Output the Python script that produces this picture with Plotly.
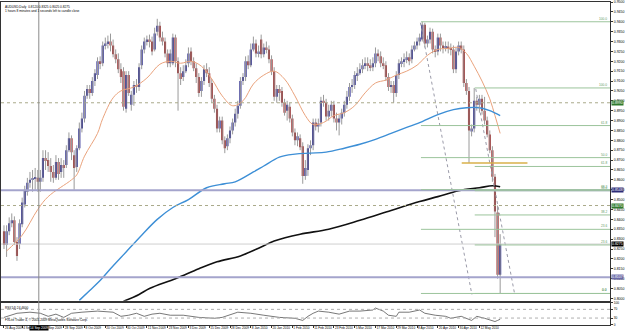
import plotly.graph_objects as go

# ---------------- data (AUDUSD daily) ----------------
opens = [0.8340,0.8270,0.8340,0.8380,0.8395,0.8285,0.8275,0.8375,0.8475,0.8540,
         0.8585,0.8600,0.8605,0.8610,0.8590,0.8610,0.8710,0.8700,0.8670,0.8640,
         0.8610,0.8690,0.8640,0.8675,0.8675,0.8750,0.8810,0.8725,0.8665,0.8760,
         0.8860,0.8910,0.9025,0.9060,0.9040,0.9100,0.9130,0.9200,0.9190,0.9280,
         0.9290,0.9300,0.9280,0.9235,0.9210,0.9160,0.9150,0.8960,0.9130,0.8980,
         0.9030,0.9080,0.9070,0.9180,0.9260,0.9300,0.9310,0.9300,0.9260,0.9350,
         0.9380,0.9320,0.9300,0.9240,0.9190,0.9190,0.9320,0.9200,0.9140,0.9120,
         0.9150,0.9190,0.9250,0.9200,0.9165,0.9120,0.9050,0.9100,0.9160,0.9140,
         0.9090,0.9010,0.8960,0.8860,0.8900,0.8800,0.8770,0.8810,0.8850,0.8890,
         0.8935,0.8975,0.9100,0.9120,0.9200,0.9180,0.9260,0.9290,0.9240,0.9310,
         0.9235,0.9270,0.9260,0.9210,0.9150,0.9020,0.9060,0.9050,0.8990,0.8950,
         0.8970,0.8910,0.8840,0.8800,0.8810,0.8770,0.8620,0.8650,0.8760,0.8775,
         0.8890,0.8870,0.8890,0.9000,0.8990,0.8920,0.8950,0.8980,0.8910,0.8890,
         0.8910,0.8940,0.8980,0.9020,0.9070,0.9080,0.9130,0.9140,0.9160,0.9180,
         0.9190,0.9180,0.9170,0.9190,0.9240,0.9225,0.9190,0.9180,0.9120,0.9070,
         0.9080,0.9040,0.9130,0.9190,0.9200,0.9210,0.9220,0.9210,0.9260,0.9280,
         0.9300,0.9310,0.9385,0.9290,0.9310,0.9350,0.9260,0.9250,0.9320,0.9280,
         0.9270,0.9275,0.9265,0.9260,0.9160,0.9250,0.9280,0.9260,0.9090,0.9050,
         0.8845,0.8860,0.9000,0.8980,0.9010,0.8950,0.8900,0.8830,0.8750,0.8615,
         0.8435,0.8120]
highs = [0.8370,0.8370,0.8410,0.8430,0.8415,0.8310,0.8400,0.8510,0.8570,0.8610,
         0.8640,0.8650,0.8660,0.8650,0.8650,0.8750,0.8750,0.8740,0.8710,0.8675,
         0.8725,0.8710,0.8710,0.8700,0.8775,0.8840,0.8825,0.8750,0.8775,0.8890,
         0.8940,0.9050,0.9080,0.9080,0.9120,0.9160,0.9220,0.9225,0.9300,0.9320,
         0.9330,0.9340,0.9310,0.9260,0.9240,0.9190,0.9170,0.9150,0.9150,0.9050,
         0.9100,0.9110,0.9190,0.9280,0.9320,0.9330,0.9335,0.9325,0.9370,0.9415,
         0.9400,0.9350,0.9320,0.9260,0.9260,0.9340,0.9335,0.9220,0.9170,0.9180,
         0.9210,0.9270,0.9270,0.9220,0.9190,0.9140,0.9120,0.9180,0.9190,0.9170,
         0.9110,0.9030,0.8980,0.8920,0.8920,0.8820,0.8830,0.8870,0.8910,0.8960,
         0.9000,0.9120,0.9140,0.9225,0.9230,0.9290,0.9325,0.9310,0.9280,0.9335,
         0.9290,0.9300,0.9280,0.9230,0.9170,0.9080,0.9080,0.9070,0.9010,0.9000,
         0.8990,0.8930,0.8860,0.8840,0.8830,0.8790,0.8700,0.8780,0.8800,0.8910,
         0.8910,0.8910,0.9020,0.9030,0.9010,0.8980,0.9000,0.9000,0.8940,0.8930,
         0.8960,0.9000,0.9050,0.9090,0.9110,0.9150,0.9170,0.9190,0.9210,0.9220,
         0.9220,0.9210,0.9220,0.9270,0.9260,0.9250,0.9220,0.9200,0.9140,0.9100,
         0.9100,0.9150,0.9210,0.9220,0.9240,0.9250,0.9240,0.9280,0.9300,0.9320,
         0.9340,0.9400,0.9395,0.9330,0.9370,0.9365,0.9280,0.9340,0.9340,0.9300,
         0.9300,0.9300,0.9290,0.9280,0.9270,0.9300,0.9300,0.9280,0.9110,0.9070,
         0.8880,0.9065,0.9020,0.9030,0.9030,0.9020,0.8920,0.8850,0.8770,0.8630,
         0.8470,0.8325]
lows = [0.8250,0.8210,0.8320,0.8360,0.8270,0.8190,0.8250,0.8360,0.8460,0.8520,
        0.8560,0.8540,0.8550,0.8540,0.8540,0.8590,0.8650,0.8640,0.8590,0.8585,
        0.8600,0.8600,0.8610,0.8610,0.8660,0.8740,0.8700,0.8550,0.8640,0.8750,
        0.8840,0.8890,0.9010,0.9010,0.9025,0.9075,0.9110,0.9160,0.9175,0.9260,
        0.9265,0.9250,0.9220,0.9190,0.9140,0.9090,0.8950,0.8940,0.9025,0.8950,
        0.8975,0.9040,0.9050,0.9160,0.9240,0.9280,0.9270,0.9230,0.9250,0.9330,
        0.9300,0.9280,0.9220,0.9170,0.9170,0.9180,0.9170,0.8950,0.9080,0.9100,
        0.9140,0.9170,0.9180,0.9150,0.9090,0.9020,0.9020,0.9080,0.9120,0.9070,
        0.8990,0.8940,0.8840,0.8840,0.8780,0.8735,0.8750,0.8785,0.8830,0.8870,
        0.8910,0.8960,0.9080,0.9100,0.9160,0.9170,0.9250,0.9220,0.9220,0.9215,
        0.9220,0.9240,0.9190,0.9130,0.9000,0.8990,0.9000,0.8970,0.8925,0.8900,
        0.8890,0.8820,0.8775,0.8770,0.8750,0.8580,0.8600,0.8620,0.8725,0.8750,
        0.8850,0.8840,0.8870,0.8970,0.8900,0.8900,0.8920,0.8890,0.8850,0.8825,
        0.8880,0.8920,0.8960,0.9000,0.9040,0.9060,0.9100,0.9130,0.9140,0.9160,
        0.9150,0.9150,0.9150,0.9170,0.9200,0.9170,0.9160,0.9100,0.9050,0.9040,
        0.8990,0.9020,0.9110,0.9170,0.9170,0.9190,0.9180,0.9190,0.9250,0.9260,
        0.9280,0.9300,0.9270,0.9270,0.9290,0.9240,0.9220,0.9230,0.9250,0.9240,
        0.9250,0.9240,0.9230,0.9140,0.9140,0.9230,0.9240,0.9070,0.9030,0.8685,
        0.8820,0.8840,0.8950,0.8940,0.8930,0.8880,0.8815,0.8735,0.8590,0.8310,
        0.8100,0.8025]
closes = [0.8270,0.8340,0.8380,0.8395,0.8285,0.8215,0.8380,0.8485,0.8550,0.8585,
          0.8600,0.8605,0.8610,0.8590,0.8610,0.8710,0.8700,0.8670,0.8640,0.8610,
          0.8690,0.8630,0.8675,0.8660,0.8750,0.8810,0.8740,0.8660,0.8760,0.8860,
          0.8910,0.9025,0.9060,0.9040,0.9100,0.9140,0.9200,0.9190,0.9280,0.9290,
          0.9300,0.9280,0.9235,0.9210,0.9160,0.9120,0.8970,0.9130,0.9040,0.9030,
          0.9080,0.9070,0.9170,0.9260,0.9300,0.9310,0.9300,0.9250,0.9340,0.9380,
          0.9320,0.9300,0.9240,0.9190,0.9240,0.9320,0.9200,0.9140,0.9110,0.9150,
          0.9180,0.9240,0.9200,0.9165,0.9120,0.9040,0.9100,0.9160,0.9140,0.9090,
          0.9010,0.8960,0.8860,0.8900,0.8800,0.8760,0.8810,0.8850,0.8890,0.8935,
          0.8975,0.9100,0.9120,0.9200,0.9180,0.9260,0.9290,0.9240,0.9250,0.9235,
          0.9270,0.9260,0.9210,0.9150,0.9020,0.9060,0.9040,0.8990,0.8940,0.8980,
          0.8910,0.8840,0.8800,0.8820,0.8765,0.8620,0.8660,0.8760,0.8775,0.8890,
          0.8870,0.8885,0.9000,0.8990,0.8920,0.8950,0.8980,0.8910,0.8890,0.8910,
          0.8940,0.8980,0.9020,0.9070,0.9080,0.9130,0.9140,0.9160,0.9180,0.9190,
          0.9180,0.9170,0.9190,0.9240,0.9225,0.9190,0.9180,0.9120,0.9070,0.9080,
          0.9040,0.9130,0.9190,0.9200,0.9210,0.9220,0.9200,0.9260,0.9280,0.9300,
          0.9320,0.9385,0.9290,0.9310,0.9350,0.9260,0.9250,0.9320,0.9280,0.9270,
          0.9275,0.9265,0.9260,0.9160,0.9250,0.9280,0.9260,0.9090,0.9050,0.8850,
          0.8860,0.9000,0.8980,0.9010,0.8950,0.8900,0.8830,0.8750,0.8615,0.8440,
          0.8120,0.8275]
bars = list(range(len(closes)))

tick_bars = [0, 7, 15, 23, 31, 39, 47, 55, 63, 71, 79, 87, 95, 103, 111, 119,
             127, 135, 143, 151, 159, 167, 175, 183]
tick_labels = ["26 Aug 2009", "4 Sep 2009", "16 Sep 2009", "28 Sep 2009", "8 Oct 2009",
               "20 Oct 2009", "30 Oct 2009", "11 Nov 2009", "23 Nov 2009", "3 Dec 2009",
               "15 Dec 2009", "28 Dec 2009", "8 Jan 2010", "20 Jan 2010", "1 Feb 2010",
               "11 Feb 2010", "23 Feb 2010", "5 Mar 2010", "17 Mar 2010", "29 Mar 2010",
               "8 Apr 2010", "20 Apr 2010", "30 Apr 2010", "12 May 2010"]

ma_fast_bars = [1, 7, 13, 17, 26, 28, 31, 36, 38, 42, 45, 50, 55, 60, 64, 68, 72, 76, 80,
                84, 88, 92, 96, 100, 104, 108, 112, 116, 119, 123, 127, 131, 135, 139, 143,
                147, 151, 155, 159, 163, 167, 171, 175, 178, 181, 184, 187, 189, 191]
ma_fast_vals = [0.8240, 0.8320, 0.8450, 0.8515, 0.8600, 0.8625, 0.8720, 0.8835, 0.8910,
                0.9015, 0.9050, 0.9070, 0.9115, 0.9185, 0.9200, 0.9190, 0.9200, 0.9175,
                0.9110, 0.9025, 0.8975, 0.9000, 0.9085, 0.9130, 0.9150, 0.9110, 0.9025,
                0.8925, 0.8880, 0.8890, 0.8925, 0.8940, 0.8975, 0.9040, 0.9090, 0.9105,
                0.9130, 0.9150, 0.9180, 0.9230, 0.9260, 0.9265, 0.9270, 0.9240, 0.9175,
                0.9100, 0.9010, 0.8925, 0.8835]

ma_mid_bars = [29, 33, 37, 41, 47, 53, 59, 65, 71, 78, 85, 89, 96, 100, 106, 112, 118, 124,
               131, 137, 143, 149, 155, 161, 167, 173, 178, 183, 187, 191]
ma_mid_vals = [0.7990, 0.8040, 0.8090, 0.8150, 0.8235, 0.8320, 0.8400, 0.8460, 0.8500,
               0.8560, 0.8580, 0.8590, 0.8640, 0.8670, 0.8715, 0.8730, 0.8735, 0.8740,
               0.8760, 0.8780, 0.8805, 0.8835, 0.8865, 0.8895, 0.8930, 0.8955, 0.8965,
               0.8965, 0.8950, 0.8925]

ma_slow_bars = [46, 52, 56, 66, 75, 82, 91, 99, 104, 114, 125, 137, 149, 160, 167, 175,
                183, 188, 191]
ma_slow_vals = [0.7985, 0.8020, 0.8050, 0.8100, 0.8150, 0.8185, 0.8215, 0.8260, 0.8290,
                0.8325, 0.8350, 0.8395, 0.8445, 0.8490, 0.8515, 0.8545, 0.8560, 0.8570,
                0.8565]

rsi_bars = [0, 5, 10, 14, 17, 20, 23, 26, 30, 36, 42, 45, 48, 51, 54, 57, 60, 64, 69, 75,
            81, 84, 90, 95, 100, 106, 112, 115, 117, 119, 121, 125, 129, 133, 137, 142,
            143, 146, 148, 151, 152, 156, 160, 162, 166, 170, 172, 176, 180, 182, 185,
            189, 190, 191]
rsi_vals = [33, 52, 57, 52, 38, 48, 33, 52, 57, 62, 57, 38, 43, 52, 38, 48, 52, 43, 43, 33,
            29, 33, 57, 52, 43, 33, 29, 19, 38, 52, 62, 57, 48, 62, 62, 67, 76, 62, 43, 38,
            57, 57, 67, 52, 43, 38, 29, 38, 19, 38, 29, 14, 19, 24.46]

purple_levels = [0.85475, 0.81075]
dotted_levels = [0.8990, 0.8470]
fib_ratios = [0.0, 0.236, 0.382, 0.5, 0.618, 1.0]
fib_labels = ["0.0", "23.6", "38.2", "50.0", "61.8", "100.0"]
fib1 = {"bar": 160.5, "high": 0.9400, "low": 0.8025}
fib2 = {"bar": 181.2, "high": 0.9065, "low": 0.8025}
trend1_bars, trend1_vals = [160.3, 180.1], [0.9395, 0.8020]
trend2_bars, trend2_vals = [181.6, 196.6], [0.9060, 0.8020]
gold_bars, gold_level = [176.2, 201.5], 0.8685
crosshair_bar = 13.4
crosshair_label = "14 Sep 2009"

# ---------------- figure ----------------
W, H = 625, 333
X_END = 612
x_range = [-1.15, 233.3]
main_dom = [(H - 302.5) / H, 1.0]
rsi_dom = [(H - 326.5) / H, (H - 304.5) / H]
FONT = "Liberation Sans"
SMALL = 3.2

fig = go.Figure()

# wicks
wx, wy = [], []
for i in bars:
    wx += [i, i, None]
    wy += [lows[i], highs[i], None]
fig.add_trace(go.Scatter(x=wx, y=wy, mode="lines", line=dict(color="#9a9a9a", width=1),
                         hoverinfo="skip"))

# bodies
for bull, col in [(True, "#1a1a8a"), (False, "#9c1a1a")]:
    xs = [i for i in bars if (closes[i] >= opens[i]) == bull]
    base = [min(opens[i], closes[i]) for i in xs]
    hgt = [max(abs(closes[i] - opens[i]), 0.0003) for i in xs]
    fig.add_trace(go.Bar(x=xs, y=hgt, base=base, width=0.8, marker_color=col,
                         marker_line_width=0, hoverinfo="skip"))

# moving averages
fig.add_trace(go.Scatter(x=ma_fast_bars, y=ma_fast_vals, mode="lines",
                         line=dict(color="#e9a27c", width=1, shape="spline")))
fig.add_trace(go.Scatter(x=ma_mid_bars, y=ma_mid_vals, mode="lines",
                         line=dict(color="#3d8fd6", width=1.4, shape="spline")))
fig.add_trace(go.Scatter(x=ma_slow_bars, y=ma_slow_vals, mode="lines",
                         line=dict(color="#111111", width=1.6, shape="spline")))

# trend lines
for tb, tv in [(trend1_bars, trend1_vals), (trend2_bars, trend2_vals)]:
    fig.add_trace(go.Scatter(x=tb, y=tv, mode="lines",
                             line=dict(color="#9a9aa8", width=1, dash="dot")))

# RSI
fig.add_trace(go.Scatter(x=rsi_bars, y=rsi_vals, mode="lines", xaxis="x2", yaxis="y2",
                         line=dict(color="#555555", width=0.8)))

shapes = []
for lv in dotted_levels:
    shapes.append(dict(type="line", xref="x", yref="y", x0=x_range[0], x1=x_range[1],
                       y0=lv, y1=lv, line=dict(color="#a9a98a", width=1, dash="dot")))
shapes.append(dict(type="line", xref="x", yref="y", x0=x_range[0], x1=x_range[1],
                   y0=closes[-1], y1=closes[-1], line=dict(color="#cfcfcf", width=1)))
for lv in purple_levels:
    shapes.append(dict(type="line", xref="x", yref="y", x0=x_range[0], x1=x_range[1],
                       y0=lv, y1=lv, line=dict(color="#a4a4cc", width=2)))
annotations = []
for fib in (fib1, fib2):
    for r, lab in zip(fib_ratios, fib_labels):
        lv = fib["low"] + r * (fib["high"] - fib["low"])
        shapes.append(dict(type="line", xref="x", yref="y", x0=fib["bar"], x1=x_range[1],
                           y0=lv, y1=lv, line=dict(color="#9cc49c", width=1)))
        annotations.append(dict(xref="paper", yref="y", x=X_END / W - 0.002, y=lv,
                                text=lab, showarrow=False, xanchor="right", yanchor="bottom",
                                yshift=-1, font=dict(size=SMALL, color="#5f9a5f", family=FONT)))
shapes.append(dict(type="line", xref="x", yref="y", x0=gold_bars[0], x1=gold_bars[1],
                   y0=gold_level, y1=gold_level, line=dict(color="#d9b04a", width=1.5)))
# crosshair
shapes.append(dict(type="line", xref="x", yref="paper", x0=crosshair_bar, x1=crosshair_bar,
                   y0=rsi_dom[0], y1=1, line=dict(color="#8a8a8a", width=1)))
# RSI levels
for lv in (70, 30):
    shapes.append(dict(type="line", xref="x2", yref="y2", x0=x_range[0], x1=x_range[1],
                       y0=lv, y1=lv, line=dict(color="#b0b0b0", width=1, dash="dot")))

# price boxes on the axis (cut by the window edge)
for lv, bg in [(purple_levels[0], "#2c2c78"), (purple_levels[1], "#6a6aa8"),
               (dotted_levels[0], "#2f7a2f"), (dotted_levels[1], "#2f7a2f"),
               (closes[-1], "#000000")]:
    annotations.append(dict(xref="paper", yref="y", x=X_END / W + 0.002, y=lv,
                            text="%.4f" % lv, showarrow=False, xanchor="left",
                            yanchor="middle", bgcolor=bg, borderpad=0,
                            font=dict(size=SMALL + 0.3, color="white", family=FONT)))
# crosshair date box
annotations.append(dict(xref="x2", yref="paper", x=crosshair_bar, y=0.0, text=crosshair_label,
                        showarrow=False, xanchor="center", yanchor="bottom", bgcolor="#000000",
                        borderpad=0, font=dict(size=SMALL, color="white", family=FONT)))
# texts
annotations.append(dict(xref="paper", yref="paper", x=0.004, y=0.998, xanchor="left",
                        yanchor="top", showarrow=False, align="left",
                        text="AUDUSD,Daily  %.4f %.4f %.4f %.4f<br>1 hours 8 minutes and 1 seconds left to candle close"
                        % (opens[-1], highs[-1], lows[-1], closes[-1]),
                        font=dict(size=SMALL, color="#000000", family=FONT)))
annotations.append(dict(xref="paper", yref="paper", x=0.004, y=rsi_dom[1] - 0.002,
                        xanchor="left", yanchor="top", showarrow=False,
                        text="RSI(14) %.4f" % rsi_vals[-1],
                        font=dict(size=SMALL, color="#000000", family=FONT)))
annotations.append(dict(xref="paper", yref="paper", x=0.004, y=rsi_dom[0] + 0.002,
                        xanchor="left", yanchor="bottom", showarrow=False,
                        text="FXLite Trader 4, © 2001-2009 MetaQuotes Software Corp.",
                        font=dict(size=SMALL, color="#000000", family=FONT)))

axis_common = dict(showgrid=False, zeroline=False, showline=True, linecolor="#333333",
                   linewidth=1, mirror=True)
fig.update_layout(
    width=W, height=H, margin=dict(l=0, r=0, t=0, b=0),
    paper_bgcolor="white", plot_bgcolor="white", showlegend=False, barmode="overlay",
    xaxis=dict(domain=[0, X_END / W], range=x_range, anchor="y", showticklabels=False,
               ticks="", **axis_common),
    xaxis2=dict(domain=[0, X_END / W], range=x_range, anchor="y2", matches="x",
                tickmode="array", tickvals=tick_bars, ticktext=tick_labels, ticks="outside",
                ticklen=2, tickcolor="#333333", ticklabelposition="outside right",
                tickangle=0, tickfont=dict(size=SMALL, family=FONT, color="#000000"),
                **axis_common),
    yaxis=dict(domain=main_dom, range=[0.79875, 0.9500], side="right", anchor="x",
               tickmode="linear", tick0=0.8000, dtick=0.0050, tickformat=".4f",
               ticks="outside", ticklen=2, tickcolor="#333333",
               tickfont=dict(size=SMALL + 0.3, family=FONT, color="#000000"), **axis_common),
    yaxis2=dict(domain=rsi_dom, range=[0, 100], side="right", anchor="x2",
                tickmode="array", tickvals=[0, 30, 70, 100], ticktext=["0", "30", "70", "100"],
                ticks="outside", ticklen=2, tickcolor="#333333",
                tickfont=dict(size=SMALL, family=FONT, color="#000000"), **axis_common),
    shapes=shapes, annotations=annotations,
)

fig.write_html("out.html")
